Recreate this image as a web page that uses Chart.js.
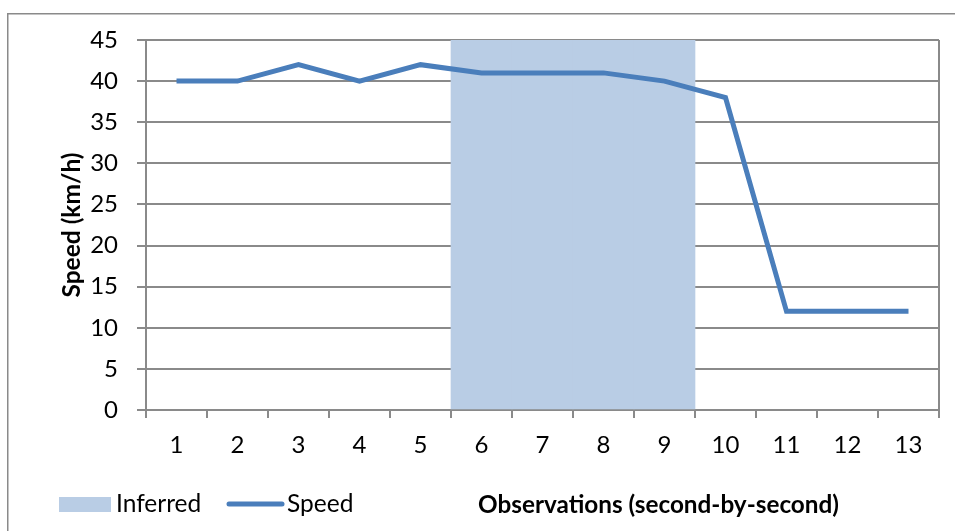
<!DOCTYPE html>
<html>
<head>
<meta charset="utf-8">
<script src="https://cdn.jsdelivr.net/npm/chart.js@4/dist/chart.umd.min.js"></script>
<style>
html,body{margin:0;padding:0;background:#fff;}
#wrap{width:955px;height:531px;}
</style>
</head>
<body>
<div id="wrap"><canvas id="c" width="955" height="531"></canvas></div>
<script>
const categories = ['1','2','3','4','5','6','7','8','9','10','11','12','13'];
const speedValues = [40, 40, 42, 40, 42, 41, 41, 41, 40, 38, 12, 12, 12];
const inferredValues = [null, null, null, null, null, 45, 45, 45, 45, null, null, null, null];
const yTicks = [0, 5, 10, 15, 20, 25, 30, 35, 40, 45];
const seriesNames = ['Inferred', 'Speed'];
const xTitle = 'Observations (second-by-second)';
const yTitle = 'Speed (km/h)';

const FONT = 'Lato';
const GRID = '#8a8a8a';
const LINE = '#4A7EBB';
const FILL = '#B9CDE5';

const decor = {
  id: 'decor',
  beforeDraw(chart) {
    const ctx = chart.ctx;
    ctx.save();
    ctx.fillStyle = '#fff';
    ctx.fillRect(0, 0, chart.width, chart.height);
    ctx.strokeStyle = GRID;
    ctx.lineWidth = 1.5;
    ctx.beginPath();
    ctx.moveTo(7.75, 1000);
    ctx.lineTo(7.75, 13.75);
    ctx.lineTo(1000, 13.75);
    ctx.stroke();
    ctx.restore();
  },
  afterDraw(chart) {
    const ctx = chart.ctx;
    const a = chart.chartArea;
    ctx.save();
    ctx.strokeStyle = GRID;
    ctx.lineWidth = 2;
    ctx.beginPath();
    ctx.moveTo(Math.round(a.right), a.top);
    ctx.lineTo(Math.round(a.right), a.bottom);
    ctx.stroke();
    const ly = 504;
    ctx.fillStyle = FILL;
    ctx.fillRect(59, 497, 52, 15);
    ctx.font = '24.5px ' + FONT;
    ctx.fillStyle = '#000';
    ctx.textBaseline = 'alphabetic';
    ctx.textAlign = 'left';
    ctx.fillText(seriesNames[0], 116, 512);
    ctx.strokeStyle = LINE;
    ctx.lineWidth = 5;
    ctx.lineCap = 'round';
    ctx.beginPath();
    ctx.moveTo(229, ly);
    ctx.lineTo(282, ly);
    ctx.stroke();
    ctx.fillText(seriesNames[1], 287, 512);
    ctx.font = 'bold 24.3px ' + FONT;
    ctx.textAlign = 'center';
    ctx.fillText(xTitle, 658.5, 513);
    ctx.restore();
  }
};

new Chart(document.getElementById('c'), {
  type: 'bar',
  data: {
    labels: categories,
    datasets: [
      {
        type: 'line',
        label: seriesNames[1],
        data: speedValues,
        borderColor: LINE,
        backgroundColor: LINE,
        borderWidth: 5,
        pointRadius: 0,
        tension: 0,
        borderCapStyle: 'butt',
        borderJoinStyle: 'miter',
        order: 0
      },
      {
        type: 'bar',
        label: seriesNames[0],
        data: inferredValues,
        backgroundColor: FILL,
        borderWidth: 0,
        barPercentage: 1,
        categoryPercentage: 1,
        order: 1
      }
    ]
  },
  plugins: [decor],
  options: {
    responsive: false,
    animation: false,
    devicePixelRatio: 1,
    layout: { padding: { top: 40, right: 16, left: 0, bottom: 0 } },
    plugins: {
      legend: { display: false },
      tooltip: { enabled: false },
      title: { display: false }
    },
    scales: {
      x: {
        type: 'category',
        offset: true,
        afterFit(scale) { scale.height = 121; },
        grid: {
          offset: true,
          drawOnChartArea: false,
          drawTicks: true,
          tickLength: 8,
          color: GRID,
          lineWidth: 2
        },
        border: { display: true, color: GRID, width: 2 },
        ticks: {
          font: { family: FONT, size: 24 },
          color: '#000',
          padding: 13,
          maxRotation: 0,
          autoSkip: false
        }
      },
      y: {
        min: 0,
        max: 45,
        afterFit(scale) { scale.width = 146; },
        afterBuildTicks(scale) { scale.ticks = yTicks.map(v => ({ value: v })); },
        grid: {
          color: GRID,
          lineWidth: 2,
          drawTicks: true,
          tickLength: 9
        },
        border: { display: true, color: GRID, width: 2 },
        ticks: {
          font: { family: FONT, size: 24 },
          color: '#000',
          padding: 19
        },
        title: {
          display: true,
          text: yTitle,
          font: { family: FONT, size: 24.5, weight: 'bold' },
          color: '#000',
          padding: { top: 57, bottom: 0 }
        }
      }
    }
  }
});
</script>
</body>
</html>
